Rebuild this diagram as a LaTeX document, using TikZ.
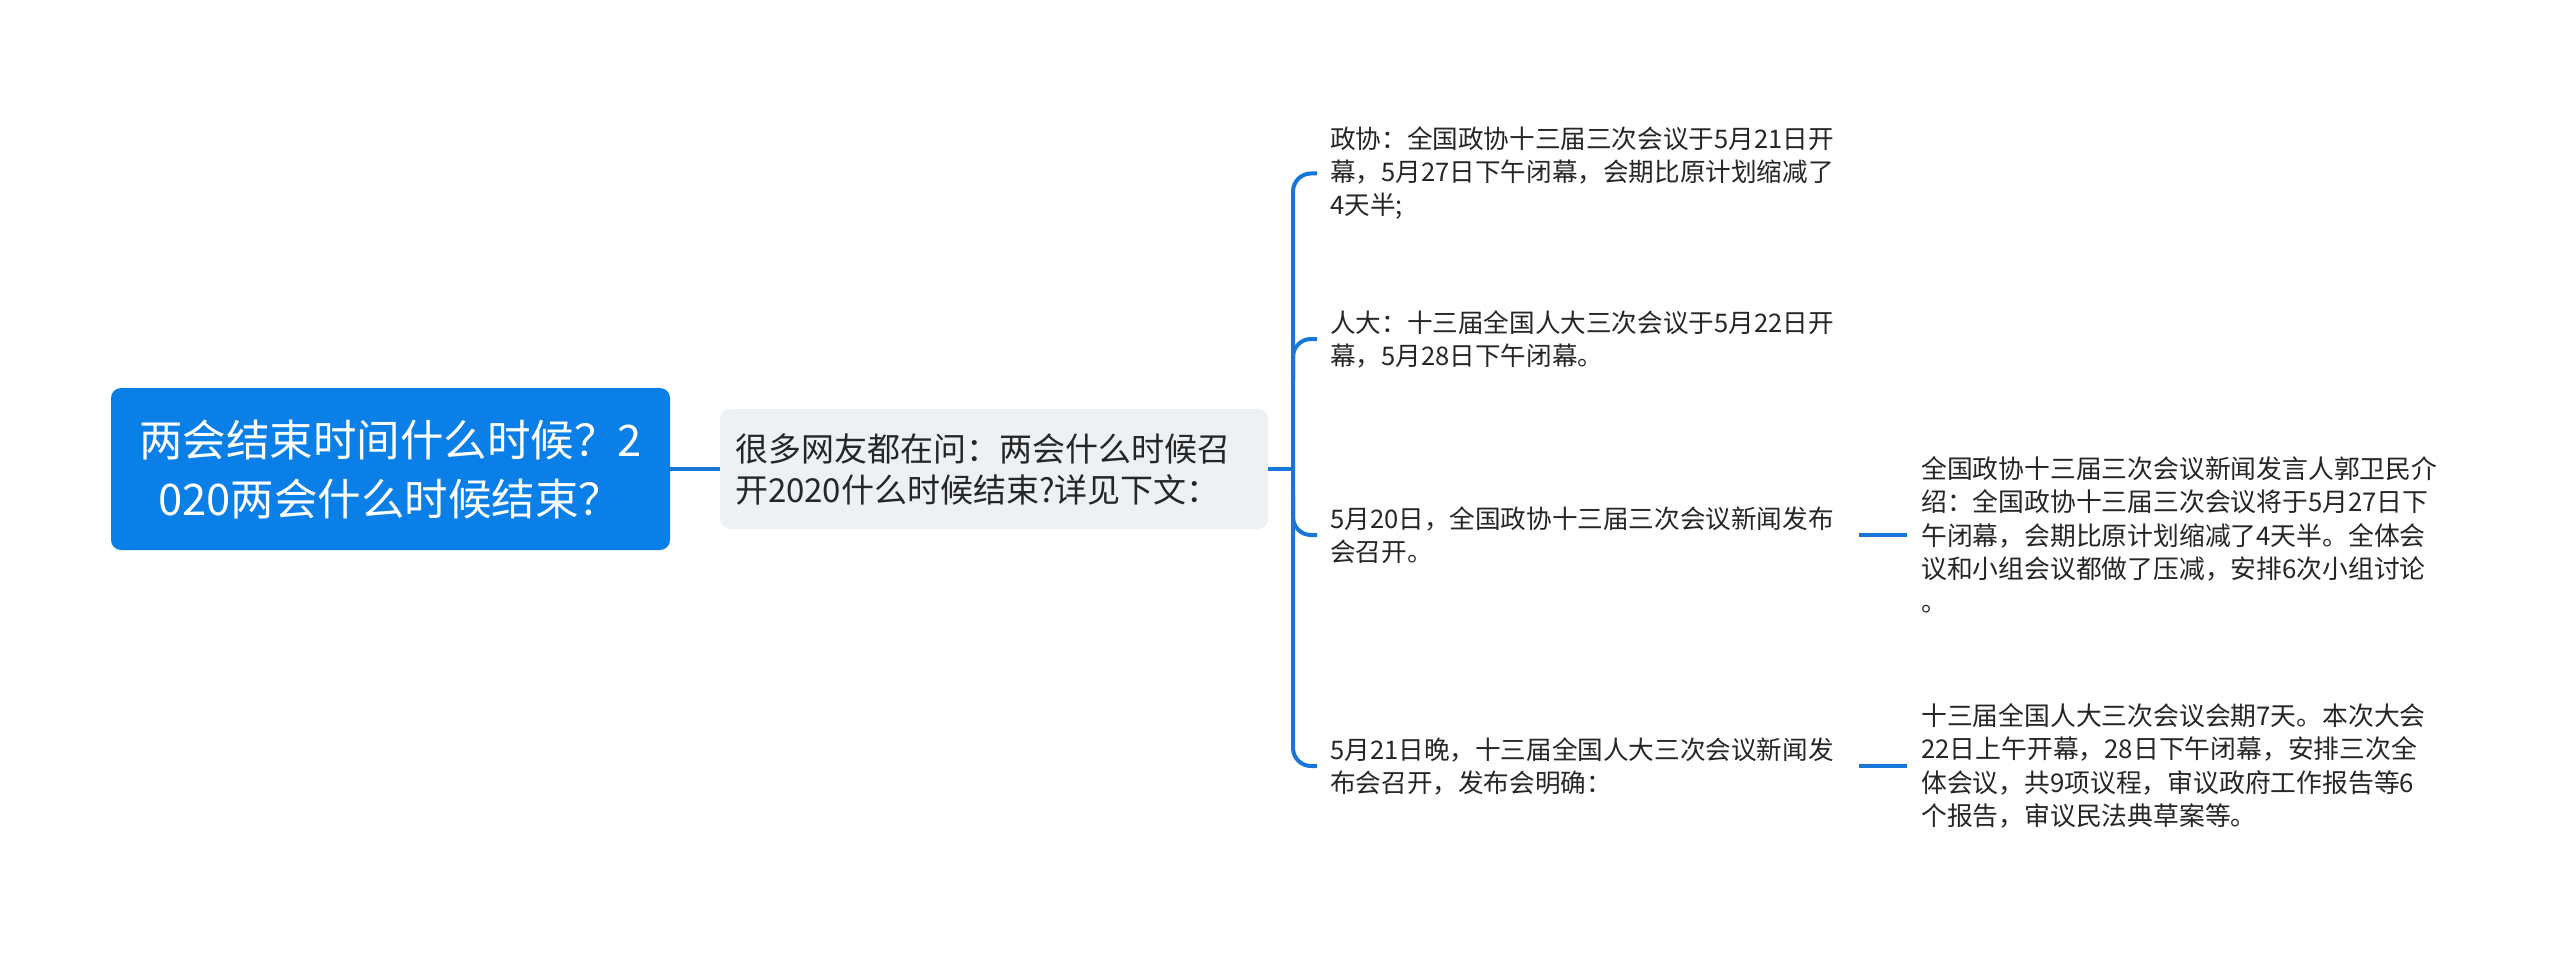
\documentclass[tikz,border=0pt]{standalone}
\usepackage{fontspec}
\setmainfont{Noto Sans CJK SC}
\definecolor{rootblue}{HTML}{0A7FE8}
\definecolor{linkblue}{HTML}{1877D6}
\definecolor{mainbg}{HTML}{EEF1F4}
\definecolor{txt}{HTML}{262626}
\tikzset{
  conn/.style={draw=linkblue, line width=4pt},
  rootbox/.style={fill=rootblue, rounded corners=10pt, text=white, align=center,
    minimum width=559pt, minimum height=162pt, inner sep=0pt,
    font=\fontsize{43.5}{59}\selectfont},
  mainbox/.style={fill=mainbg, rounded corners=10pt, text=txt, align=left,
    text width=518pt, inner xsep=15pt, minimum height=120pt,
    font=\fontsize{33}{41}\selectfont},
  leaf/.style={anchor=west, text=txt, align=left, text width=516pt,
    inner xsep=13pt, inner ysep=0pt, font=\fontsize{25.6}{33}\selectfont},
  gleaf/.style={leaf, text width=560pt, inner xsep=14pt, font=\fontsize{25.8}{33.3}\selectfont},
}
\begin{document}
\begin{tikzpicture}[x=1pt,y=-1pt]
\useasboundingbox (0,0) rectangle (2560,955);
\fill[white] (0,0) rectangle (2560,955);
\node[rootbox] (root) at (390.5,469) {两会结束时间什么时候？2\\020两会什么时候结束？};
\node[mainbox] (main) at (994,469) {很多网友都在问：两会什么时候召\\开2020什么时候结束?详见下文：};
\coordinate (bx) at (1293,469);
\node[leaf] (c1) at (1317,173.5) {政协：全国政协十三届三次会议于5月21日开\\幕，5月27日下午闭幕，会期比原计划缩减了\\4天半;};
\node[leaf] (c2) at (1317,339) {人大：十三届全国人大三次会议于5月22日开\\幕，5月28日下午闭幕。};
\node[leaf] (c3) at (1317,535) {5月20日，全国政协十三届三次会议新闻发布\\会召开。};
\node[leaf] (c4) at (1317,766) {5月21日晚，十三届全国人大三次会议新闻发\\布会召开，发布会明确：};
\node[gleaf] (g1) at (1907,535) {全国政协十三届三次会议新闻发言人郭卫民介\\绍：全国政协十三届三次会议将于5月27日下\\午闭幕，会期比原计划缩减了4天半。全体会\\议和小组会议都做了压减，安排6次小组讨论\\。};
\node[gleaf] (g2) at (1907,766) {十三届全国人大三次会议会期7天。本次大会\\22日上午开幕，28日下午闭幕，安排三次全\\体会议，共9项议程，审议政府工作报告等6\\个报告，审议民法典草案等。};
\draw[conn] (root.east) -- (main.west);
\draw[conn] (main.east) -- (bx);
\draw[conn, rounded corners=18pt] (c1.west) -- (c1.west -| bx) -- (c4.west -| bx) -- (c4.west);
\draw[conn, rounded corners=18pt] (c2.west) -- (c2.west -| bx) -- ++(0,40);
\draw[conn, rounded corners=18pt] (c3.west) -- (c3.west -| bx) -- ++(0,-40);
\draw[conn] (c3.east) -- (g1.west);
\draw[conn] (c4.east) -- (g2.west);
\end{tikzpicture}
\end{document}
